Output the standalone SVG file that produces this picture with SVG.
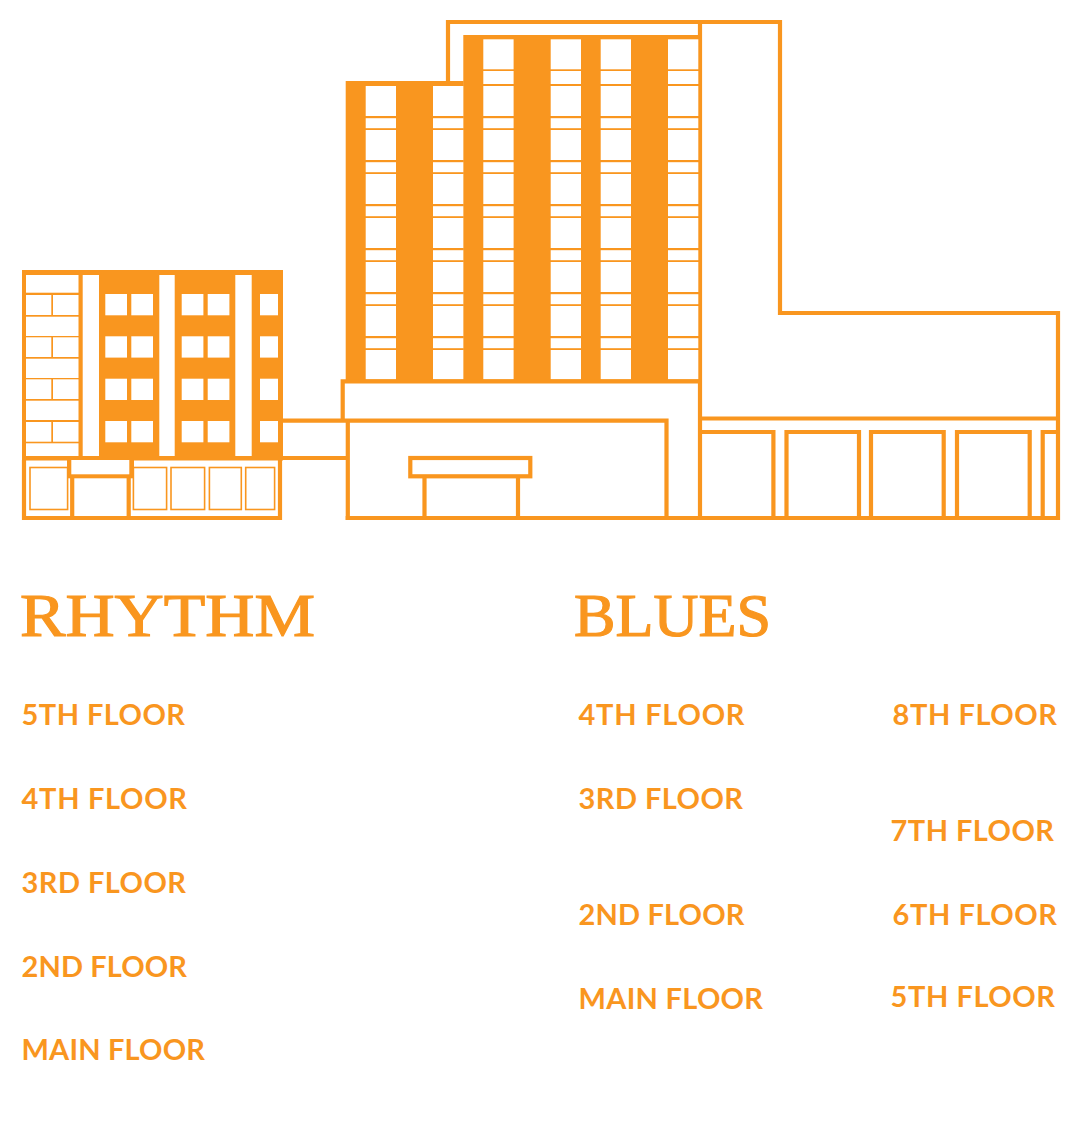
<svg xmlns="http://www.w3.org/2000/svg" xmlns:xlink="http://www.w3.org/1999/xlink" width="1080" height="1143" viewBox="0 0 1080 1143">
<style>
.o{fill:#f9961f}
.w{fill:#fff}
.l{fill:none;stroke:#f9961f;stroke-width:4.2}
.t{fill:none;stroke:#f9961f;stroke-width:1.6}
.f{font-family:"Lato","Liberation Sans",sans-serif;font-weight:700;font-size:29px;fill:#f9961f}
.h{font-family:"Liberation Serif",serif;font-weight:400;font-size:62px;fill:#f9961f;stroke:#f9961f;stroke-width:1.2}
</style>
<defs>
<g id="floors" class="w">
<rect x="0" y="86" width="30.3" height="30"/><rect x="0" y="118.2" width="30.3" height="10"/>
<rect x="0" y="130" width="30.3" height="30"/><rect x="0" y="162.2" width="30.3" height="10"/>
<rect x="0" y="174" width="30.3" height="30"/><rect x="0" y="206.2" width="30.3" height="10"/>
<rect x="0" y="218" width="30.3" height="30"/><rect x="0" y="250.2" width="30.3" height="10"/>
<rect x="0" y="262" width="30.3" height="30"/><rect x="0" y="294.2" width="30.3" height="10"/>
<rect x="0" y="306" width="30.3" height="30"/><rect x="0" y="338.2" width="30.3" height="10"/>
<rect x="0" y="350" width="30.3" height="29.4"/>
</g>
<g id="top" class="w"><rect x="0" y="39.3" width="30.3" height="30"/><rect x="0" y="71" width="30.3" height="13"/></g>
<g id="winrow">
<rect x="105.3" width="21.7" height="21.3"/><rect x="131.3" width="21.7" height="21.3"/>
<rect x="181.7" width="21.7" height="21.3"/><rect x="207.7" width="21.7" height="21.3"/>
<rect x="260" width="18" height="21.3"/>
</g>
</defs>
<rect width="1080" height="1143" class="w"/>
<g id="tower-back">
<path class="l" d="M448 85V22H780V313H1058V518H345.7"/>
<path class="l" d="M700 22V518"/>
</g>
<g id="tower-blues">
<rect class="o" x="463.3" y="35" width="236.7" height="348"/>
<use xlink:href="#floors" x="483.3"/><use xlink:href="#floors" x="550.7"/><use xlink:href="#floors" x="600.7"/><use xlink:href="#floors" x="668"/>
<use xlink:href="#top" x="483.3"/><use xlink:href="#top" x="550.7"/><use xlink:href="#top" x="600.7"/><use xlink:href="#top" x="668"/>
</g>
<g id="tower-rhythm">
<rect class="o" x="345.7" y="81" width="118" height="302"/>
<use xlink:href="#floors" x="365.7"/><use xlink:href="#floors" x="433"/>
</g>
<g id="base">
<path class="l" d="M342.7 419.9V381.3H700"/>
<path class="l" d="M283 420.6H666.5V518"/>
<path class="l" d="M347.8 420V520"/>
<path class="l" d="M283 458H347.8"/>
<rect class="l" x="410.3" y="458" width="120" height="18.3"/>
<path class="l" d="M424.5 478V518M518 478V518"/>
</g>
<g id="shops">
<path class="l" d="M700 418.5H1058"/>
<path class="l" d="M700 432H773.4V518"/>
<path class="l" d="M786.5 518V432H859V518"/>
<path class="l" d="M871 518V432H943.7V518"/>
<path class="l" d="M957 518V432H1029.7V518"/>
<path class="l" d="M1042.7 518V432H1058"/>
</g>
<g id="small-building">
<rect class="o" x="22" y="270" width="261" height="190.5"/>
<g class="w">
<rect x="26" y="275" width="52.5" height="17.7"/>
<rect x="26" y="295" width="25.3" height="20"/><rect x="53" y="295" width="25.5" height="20"/>
<rect x="26" y="316.7" width="52.5" height="19.3"/>
<rect x="26" y="337.3" width="25.3" height="19.7"/><rect x="53" y="337.3" width="25.5" height="19.7"/>
<rect x="26" y="358.7" width="52.5" height="19.3"/>
<rect x="26" y="379.3" width="25.3" height="19.7"/><rect x="53" y="379.3" width="25.5" height="19.7"/>
<rect x="26" y="400.7" width="52.5" height="19.3"/>
<rect x="26" y="422" width="25.3" height="19.7"/><rect x="53" y="422" width="25.5" height="19.7"/>
<rect x="26" y="443.3" width="52.5" height="12.7"/>
<rect x="82.7" y="275" width="16.3" height="181"/>
<rect x="159.3" y="275" width="15.4" height="181"/>
<rect x="235.3" y="275" width="16.4" height="181"/>
<use xlink:href="#winrow" y="294"/><use xlink:href="#winrow" y="336.3"/><use xlink:href="#winrow" y="378.7"/><use xlink:href="#winrow" y="421"/>
</g>
<path class="l" d="M24 460V518H280V460"/>
<rect class="o" x="67" y="460" width="67" height="18.3"/>
<rect class="w" x="71.3" y="460" width="58" height="14.3"/>
<path class="l" d="M72.2 478V518M128.7 478V518"/>
<g class="t">
<rect x="30" y="467.5" width="37.6" height="42"/>
<rect x="133.4" y="467.5" width="33.2" height="42"/>
<rect x="171" y="467.5" width="33.6" height="42"/>
<rect x="209.4" y="467.5" width="31.9" height="42"/>
<rect x="245.7" y="467.5" width="28.9" height="42"/>
</g>
</g>
<g id="rhythm-labels">
<text class="h" x="20" y="636" textLength="295" lengthAdjust="spacingAndGlyphs">RHYTHM</text>
<text class="f" x="21.5" y="725" textLength="163.5">5TH FLOOR</text>
<text class="f" x="21.5" y="809" textLength="165.5">4TH FLOOR</text>
<text class="f" x="21.5" y="893" textLength="164.5">3RD FLOOR</text>
<text class="f" x="21.5" y="977" textLength="165.5">2ND FLOOR</text>
<text class="f" x="21.5" y="1060" textLength="183.5">MAIN FLOOR</text>
</g>
<g id="blues-labels">
<text class="h" x="574" y="636" textLength="197" lengthAdjust="spacingAndGlyphs">BLUES</text>
<text class="f" x="578.5" y="725" textLength="166">4TH FLOOR</text>
<text class="f" x="578.5" y="809" textLength="164.5">3RD FLOOR</text>
<text class="f" x="578.5" y="925" textLength="166">2ND FLOOR</text>
<text class="f" x="578.5" y="1009" textLength="184.5">MAIN FLOOR</text>
<text class="f" x="892.5" y="725" textLength="164.5">8TH FLOOR</text>
<text class="f" x="890.5" y="841" textLength="163.5">7TH FLOOR</text>
<text class="f" x="892.5" y="925" textLength="164.5">6TH FLOOR</text>
<text class="f" x="890.5" y="1007" textLength="164.5">5TH FLOOR</text>
</g>
</svg>
